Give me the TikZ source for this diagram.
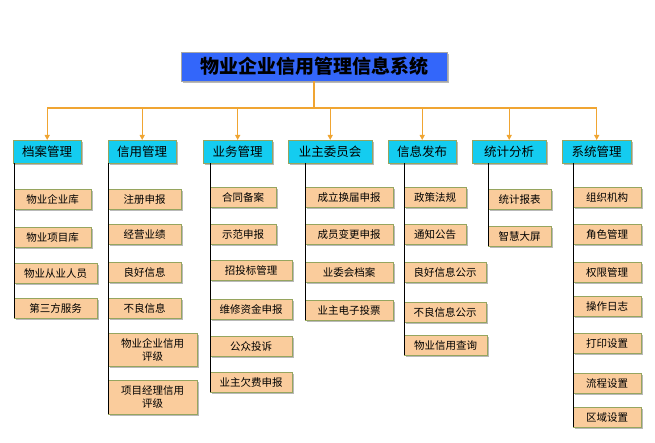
\documentclass[tikz,border=0pt]{standalone}
\usepackage{fontspec}
\setmainfont{Noto Sans CJK SC}
\usetikzlibrary{arrows.meta,shadows}

\definecolor{titleblue}{RGB}{51,102,250}
\definecolor{catcyan}{RGB}{20,204,240}
\definecolor{leafpeach}{RGB}{250,204,156}
\definecolor{olive}{RGB}{150,165,95}
\definecolor{busorange}{RGB}{240,165,50}

\begin{document}
\begin{tikzpicture}
  [x=1pt,y=-1pt,
   every node/.style={anchor=north west,inner sep=0pt,align=center},
   shade/.style={drop shadow={shadow xshift=2pt,shadow yshift=-2pt,fill=gray!55,opacity=1}},
   title/.style={shade,draw=gray!70,fill=titleblue,minimum height=29pt,
     font=\fontsize{19}{21}\selectfont\bfseries},
   cat/.style={shade,draw=olive,fill=catcyan,minimum height=23pt,
     font=\fontsize{12.5}{14}\selectfont},
   leaf/.style={shade,draw=olive,fill=leafpeach,minimum height=20pt,
     font=\fontsize{10.5}{13}\selectfont},
   bus/.style={busorange,line width=1.6pt},
   drop/.style={busorange,line width=1.4pt,-{Triangle[length=5pt,width=5pt]}},
   stem/.style={black,line width=0.9pt}]
  \useasboundingbox (0,0) rectangle (655,443);

  % title
  \node[title,minimum width=266pt] (sys) at (181,52) {物业企业信用管理信息系统};

  % categories
  \node[cat,minimum width=68pt] (c1) at (13,140) {档案管理};
  \node[cat,minimum width=68pt] (c2) at (108,140) {信用管理};
  \node[cat,minimum width=69pt] (c3) at (203,140) {业务管理};
  \node[cat,minimum width=84pt] (c4) at (288,140) {业主委员会};
  \node[cat,minimum width=68pt] (c5) at (388,140) {信息发布};
  \node[cat,minimum width=74pt] (c6) at (472,140) {统计分析};
  \node[cat,minimum width=69pt] (c7) at (562,140) {系统管理};

  % leaves
  \foreach \n/\y/\w/\t in {1/189/77/物业企业库,2/227/77/物业项目库,
      3/263/83/物业从业人员,4/298/83/第三方服务}
    \node[leaf,minimum width=\w pt] (a\n) at (14,\y) {\t};
  \foreach \n/\y/\w/\t in {1/189/73/注册申报,2/224/73/经营业绩,3/262/73/良好信息,
      4/298/73/不良信息}
    \node[leaf,minimum width=\w pt] (b\n) at (108,\y) {\t};
  \node[leaf,minimum width=89pt,minimum height=33pt] (b5) at (108,333) {物业企业信用\\评级};
  \node[leaf,minimum width=89pt,minimum height=34pt] (b6) at (108,380) {项目经理信用\\评级};
  \foreach \n/\y/\w/\t in {1/187/66/合同备案,2/224/66/示范申报,3/260/82/招投标管理,
      4/299/82/维修资金申报,5/336/82/公众投诉,6/372/82/业主欠费申报}
    \node[leaf,minimum width=\w pt] (d\n) at (210,\y) {\t};
  \foreach \n/\y/\t in {1/187/成立换届申报,2/224/成员变更申报,3/262/业委会档案,
      4/300/业主电子投票}
    \node[leaf,minimum width=88pt] (e\n) at (305,\y) {\t};
  \foreach \n/\y/\w/\t in {1/187/62/政策法规,2/224/62/通知公告,3/262/82/良好信息公示,
      4/302/82/不良信息公示,5/335/83/物业信用查询}
    \node[leaf,minimum width=\w pt] (f\n) at (404,\y) {\t};
  \foreach \n/\y/\t in {1/189/统计报表,2/226/智慧大屏}
    \node[leaf,minimum width=63pt] (g\n) at (488,\y) {\t};
  \foreach \n/\y/\t in {1/187/组织机构,2/224/角色管理,3/262/权限管理,4/296/操作日志,
      5/333/打印设置,6/373/流程设置,7/407/区域设置}
    \node[leaf,minimum width=68pt] (h\n) at (573,\y) {\t};

  % orange bus
  \coordinate (hub) at (sys.south |- 0,108);
  \draw[bus] (sys.south) -- (hub);
  \draw[bus] (c1.north |- hub) -- (c7.north |- hub);
  \foreach \i in {1,...,7}
    \draw[drop] (c\i.north |- hub) -- (c\i.north);

  % stems
  \foreach \c/\l/\k in {c1/a/4,c2/b/6,c3/d/6,c4/e/4,c5/f/5,c6/g/2,c7/h/7}
    \draw[stem] (\l1.west |- \c.south) -- (\l\k.south west);
\end{tikzpicture}
\end{document}
